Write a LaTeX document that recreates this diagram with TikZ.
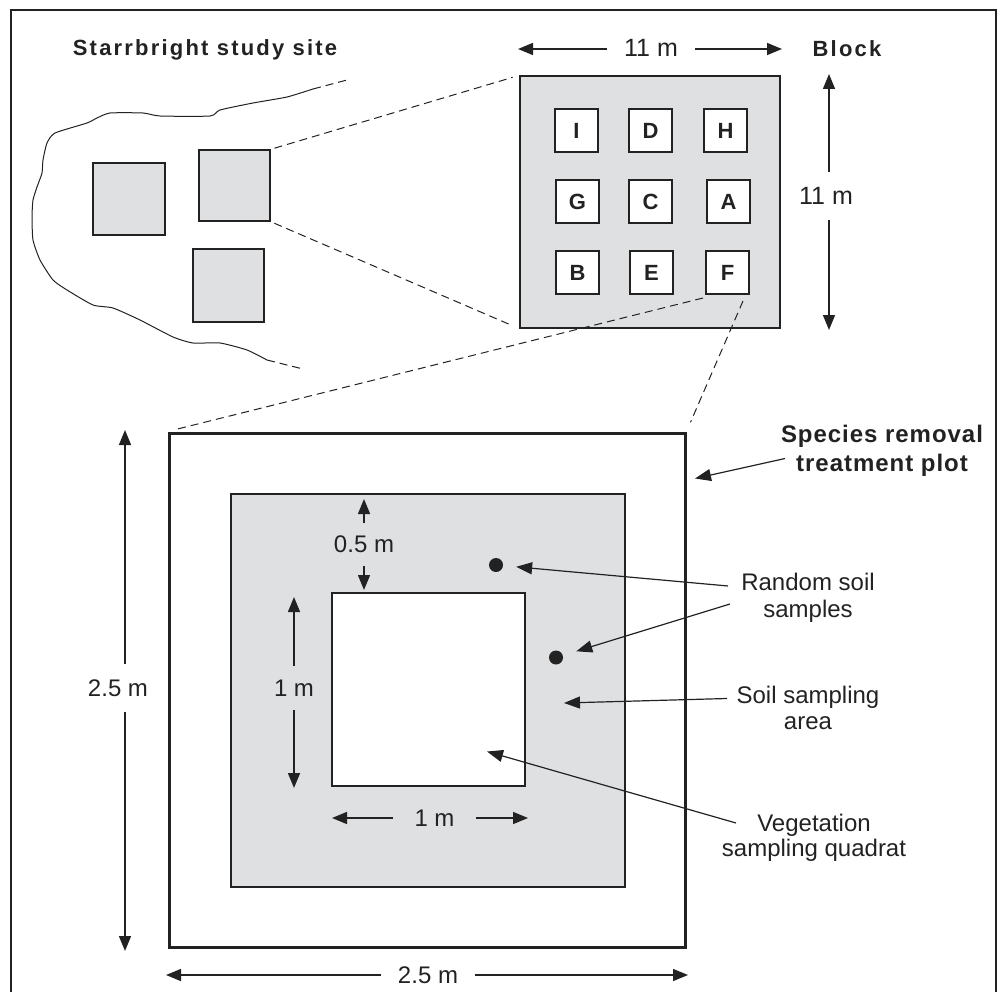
\documentclass[tikz,border=0pt]{standalone}
\usepackage{fontspec}
\setmainfont{Liberation Sans}
\newfontfamily\bsp[LetterSpace=10]{Liberation Sans}
\newfontfamily\bspb[LetterSpace=4]{Liberation Sans}
\usetikzlibrary{arrows.meta}
\definecolor{fillgray}{HTML}{DFE0E2}
\definecolor{ink}{HTML}{222222}
\tikzset{
  box/.style={draw=ink, line width=1.3pt, fill=fillgray, inner sep=0pt},
  letterbox/.style={draw=ink, line width=1.2pt, fill=white, minimum size=43pt, inner sep=0pt,
    font=\fontsize{22}{26}\selectfont\bfseries, text=ink},
  zoomline/.style={draw=ink, line width=1pt, dash pattern=on 8pt off 5pt},
  dimarrow/.style={draw=ink, line width=1.5pt, -{Triangle[length=15pt,width=12pt]}},
  callout/.style={draw=ink, line width=1.2pt, -{Triangle[length=16pt,width=12pt]}},
  dimlabel/.style={inner sep=0pt, font=\fontsize{24}{28}\selectfont, text=ink},
  calltext/.style={align=center, inner sep=0pt, text=ink},
  heading/.style={font=\bsp\bfseries\fontsize{22}{26}\selectfont, text=ink, align=center, inner sep=0pt},
  dot/.style={circle, fill=ink, minimum size=14pt, inner sep=0pt},
}
\begin{document}
\begin{tikzpicture}[x=1pt,y=-1pt]
\useasboundingbox (0,0) rectangle (998,992);
\draw[ink, line width=1.5pt] (11,10) rectangle (996,1005);

% ---- study site ----
\node[heading] (title) at (205,50) {Starrbright study site};
\draw[ink, line width=1pt] plot[smooth, tension=0.35] coordinates {
 (313,89) (287,97) (253,103) (220,110) (210,116) (160,116) (143,113) (110,113)
 (97,118) (87,123) (55,133) (47,143) (43,160) (42,173) (37,187) (33,200) (32,217)
 (33,240) (40,260) (53,280) (67,290) (93,305) (113,308) (140,320) (173,337)
 (193,343) (220,343) (247,350) (267,360)};
\coordinate (oa) at (313,89);
\coordinate (ob) at (347,80);
\coordinate (oc) at (267,360);
\coordinate (od) at (303,369);
\draw[zoomline] (oa) -- (ob);
\draw[zoomline] (oc) -- (od);

\node[box, minimum width=72pt, minimum height=72pt] (s1) at (129,199) {};
\node[box, minimum width=71pt, minimum height=71pt] (s2) at (234.5,185.5) {};
\node[box, minimum width=71pt, minimum height=73pt] (s3) at (228.5,285.5) {};

% ---- block ----
\node[box, minimum width=260pt, minimum height=252pt] (block) at (650,202) {};
\node[letterbox] (I) at (576.5,130.5) {I};
\node[letterbox] (D) at (650.5,130.5) {D};
\node[letterbox] (H) at (725.5,130.5) {H};
\node[letterbox] (G) at (577.5,201.5) {G};
\node[letterbox] (C) at (650.5,201.5) {C};
\node[letterbox] (A) at (728.5,201.5) {A};
\node[letterbox] (B) at (577.5,272.5) {B};
\node[letterbox] (E) at (651.5,272.5) {E};
\node[letterbox] (F) at (727.5,272.5) {F};

\node[heading] (blocklbl) at (847,49) {Block};
\node[dimlabel, font=\fontsize{25}{28}\selectfont, minimum width=88pt] (bw) at (651,48) {11 m};
\coordinate (bwl) at (518,49);
\coordinate (bwr) at (782,49);
\draw[dimarrow] (bw.west |- bwl) -- (bwl);
\draw[dimarrow] (bw.east |- bwr) -- (bwr);
\node[dimlabel, font=\fontsize{25}{28}\selectfont, minimum height=48pt] (bh) at (826,196) {11 m};
\coordinate (bht) at (829,74);
\coordinate (bhb) at (829,330);
\draw[dimarrow] (bh.north -| bht) -- (bht);
\draw[dimarrow] (bh.south -| bhb) -- (bhb);

\draw[zoomline, shorten <=4pt, shorten >=7pt] (s2.north east) -- (block.north west);
\draw[zoomline, shorten <=4pt, shorten >=7pt] (s2.south east) -- (block.south west);

% ---- plot ----
\node[draw=ink, line width=3pt, minimum width=516pt, minimum height=514pt, inner sep=0pt] (plot) at (427,690) {};
\node[box, minimum width=394pt, minimum height=393pt] (area) at (428,690.5) {};
\node[draw=ink, line width=1.3pt, fill=white, minimum width=193pt, minimum height=193pt, inner sep=0pt] (quad) at (428.5,689.5) {};

\coordinate (fa) at (703,298);
\coordinate (fb) at (743,301);
\draw[zoomline, shorten >=8pt] (fa) -- (plot.north west);
\draw[zoomline, shorten >=10pt] (fb) -- (plot.north east);

\node[dot] (dot1) at (496,565) {};
\node[dot] (dot2) at (556,657.5) {};

% dimensions
\node[dimlabel, minimum height=47pt] (twv) at (118,688) {2.5 m};
\coordinate (tvt) at (125,430);
\coordinate (tvb) at (125,951);
\draw[dimarrow] (twv.north -| tvt) -- (tvt);
\draw[dimarrow] (twv.south -| tvb) -- (tvb);

\node[dimlabel, minimum width=94pt] (twh) at (428,975) {2.5 m};
\coordinate (thl) at (166,975);
\coordinate (thr) at (688,975);
\draw[dimarrow] (twh.west) -- (thl);
\draw[dimarrow] (twh.east) -- (thr);

\node[dimlabel, minimum height=43pt] (half) at (364,544.5) {0.5 m};
\coordinate (hft) at (364,499);
\coordinate (hfb) at (364,590);
\draw[dimarrow] (half.north) -- (hft);
\draw[dimarrow] (half.south) -- (hfb);

\node[dimlabel, minimum height=44pt] (onev) at (294,688) {1 m};
\coordinate (ovt) at (294,597);
\coordinate (ovb) at (294,788);
\draw[dimarrow] (onev.north) -- (ovt);
\draw[dimarrow] (onev.south) -- (ovb);

\node[dimlabel, minimum width=83pt] (oneh) at (434.5,818) {1 m};
\coordinate (ohl) at (332,818);
\coordinate (ohr) at (528,818);
\draw[dimarrow] (oneh.west) -- (ohl);
\draw[dimarrow] (oneh.east) -- (ohr);

% callouts
\node[calltext, font=\bspb\bfseries\fontsize{24}{29}\selectfont] (spr) at (882,451) {Species removal\\treatment plot};
\coordinate (sprA) at (785,458.5);
\coordinate (sprT) at (695,478.5);
\draw[callout] (sprA) -- (sprT);

\node[calltext, font=\fontsize{24}{26.5}\selectfont] (rss) at (808,598) {Random soil\\samples};
\coordinate (rsA) at (728,586);
\coordinate (rsB) at (730,604);
\draw[callout, shorten >=13pt] (rsA) -- (dot1);
\draw[callout, shorten >=14pt] (rsB) -- (dot2);

\node[calltext, font=\fontsize{24}{26.5}\selectfont] (ssa) at (808,708) {Soil sampling\\area};
\coordinate (ssA) at (727,698.5);
\coordinate (ssT) at (564,703);
\draw[callout] (ssA) -- (ssT);

\node[calltext, font=\fontsize{24}{24.5}\selectfont] (vsq) at (814,838) {Vegetation\\sampling quadrat};
\coordinate (vqA) at (736,823);
\coordinate (vqT) at (487,751.5);
\draw[callout] (vqA) -- (vqT);
\end{tikzpicture}
\end{document}
